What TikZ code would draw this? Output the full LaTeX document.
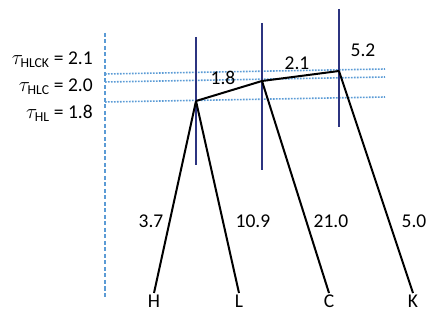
\documentclass[tikz,border=0pt]{standalone}
\usepackage{amsmath}
\usepackage{fontspec}
\setmainfont{Carlito}
\usepackage{tikz}
\definecolor{barblue}{RGB}{44,52,128}
\definecolor{lvlblue}{RGB}{91,155,213}
\begin{document}
\begin{tikzpicture}[x=1pt, y=-1pt,
    leaf/.style={anchor=north, inner sep=2pt, font=\fontsize{19.5}{22}\selectfont},
    num/.style={font=\fontsize{19.5}{22}\selectfont},
    tau/.style={anchor=east, inner sep=0pt, font=\fontsize{19.5}{22}\selectfont},
    edge/.style={black, line width=2pt},
    bar/.style={barblue, line width=2pt},
    level/.style={lvlblue, line width=1.6pt, dash pattern=on 1.6pt off 1.4pt},
  ]
    \useasboundingbox (0,0) rectangle (428,320);
    % axis and cut levels
    \coordinate (axtop) at (105,33);
    \coordinate (axbot) at (105,297);
    \draw[lvlblue, line width=1.4pt, dash pattern=on 4pt off 2.5pt] (axtop) -- (axbot);
    \coordinate (l3a) at (105,74);  \coordinate (l3b) at (385,69);
    \coordinate (l2a) at (105,82);  \coordinate (l2b) at (385,77);
    \coordinate (l1a) at (105,102); \coordinate (l1b) at (385,97);
    \draw[level] (l3a) -- (l3b);
    \draw[level] (l2a) -- (l2b);
    \draw[level] (l1a) -- (l1b);
    \node[tau] (tHLCK) at (93,60)  {$\tau_{\text{HLCK}}$ = 2.1};
    \node[tau] (tHLC)  at (93,87)  {$\tau_{\text{HLC}}$ = 2.0};
    \node[tau] (tHL)   at (93,113) {$\tau_{\text{HL}}$ = 1.8};
    % bars
    \coordinate (b1t) at (196,37);  \coordinate (b1b) at (196,165);
    \coordinate (b2t) at (262,23);  \coordinate (b2b) at (262,170);
    \coordinate (b3t) at (339,9);   \coordinate (b3b) at (339,127);
    \draw[bar] (b1t) -- (b1b);
    \draw[bar] (b2t) -- (b2b);
    \draw[bar] (b3t) -- (b3b);
    % tree
    \coordinate (nHL)   at (196,101);
    \coordinate (nHLC)  at (262,81);
    \coordinate (nHLCK) at (339,71);
    \node[leaf] (H) at (154,293) {H};
    \node[leaf] (L) at (239,293) {L};
    \node[leaf] (C) at (329,293) {C};
    \node[leaf] (K) at (413,293) {K};
    \draw[edge] (nHL) -- (H.north);
    \draw[edge] (nHL) -- (L.north);
    \draw[edge] (nHLC) -- (C.north);
    \draw[edge] (nHLCK) -- (K.north);
    \draw[edge, line join=round] (nHL) -- (nHLC) -- (nHLCK);
    % branch lengths
    \node[num] (w1)  at (223,78)  {1.8};
    \node[num] (w2)  at (297,63)  {2.1};
    \node[num] (w3)  at (363,50)  {5.2};
    \node[num] (wH)  at (151,221) {3.7};
    \node[num] (wL)  at (253,221) {10.9};
    \node[num] (wC)  at (331,221) {21.0};
    \node[num] (wK)  at (414,221) {5.0};
  \end{tikzpicture}
\end{document}
